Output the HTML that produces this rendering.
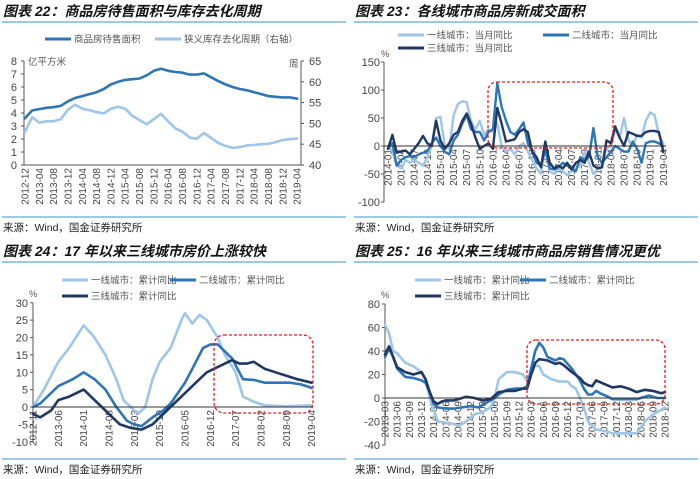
<!DOCTYPE html>
<html><head><meta charset="utf-8"><style>
html,body{margin:0;padding:0;background:#fff;}
svg{display:block;font-family:"Liberation Sans","Noto Sans CJK SC",sans-serif;}
.t{font-size:14px;font-weight:bold;font-style:italic;fill:#111;}
.tk{font-size:11px;fill:#444;}
.rt{font-size:10px;fill:#444;}
.lg{font-size:9.5px;fill:#555;}
.src{font-size:10.5px;fill:#222;}
</style></head><body>
<svg id="s" width="700" height="479" viewBox="0 0 700 479" xmlns="http://www.w3.org/2000/svg">
<g>
<text class="t" x="3" y="16">图表 22：商品房待售面积与库存去化周期</text>
<text class="t" x="355" y="16">图表 23：各线城市商品房新成交面积</text>
<text class="t" x="3" y="256">图表 24：17 年以来三线城市房价上涨较快</text>
<text class="t" x="355" y="256">图表 25：16 年以来三线城市商品房销售情况更优</text>
<line x1="2" y1="22" x2="346" y2="22" stroke="#7db8d8" stroke-width="1.5"/>
<line x1="354" y1="22" x2="698" y2="22" stroke="#7db8d8" stroke-width="1.5"/>
<line x1="2" y1="262" x2="346" y2="262" stroke="#7db8d8" stroke-width="1.5"/>
<line x1="354" y1="262" x2="698" y2="262" stroke="#7db8d8" stroke-width="1.5"/>
<line x1="2" y1="217" x2="346" y2="217" stroke="#7db8d8" stroke-width="1.5"/>
<line x1="354" y1="217" x2="698" y2="217" stroke="#7db8d8" stroke-width="1.5"/>
<line x1="2" y1="459" x2="346" y2="459" stroke="#7db8d8" stroke-width="1.5"/>
<line x1="354" y1="459" x2="698" y2="459" stroke="#7db8d8" stroke-width="1.5"/>
<text class="src" x="3" y="231">来源：Wind，国金证券研究所</text>
<text class="src" x="355" y="231">来源：Wind，国金证券研究所</text>
<text class="src" x="3" y="473">来源：Wind，国金证券研究所</text>
<text class="src" x="355" y="473">来源：Wind，国金证券研究所</text>
</g>
</svg>
<script>
const LIGHT="#9fc5e8", MID="#2e75b6", DARK="#1f3864";
// ---- Chart 22 data (bi-monthly, 2012-12 .. 2019-04)
const c22Months=[0,2,4,6,8,10,12,14,16,18,20,22,24,26,28,30,32,34,36,38,40,42,44,46,48,50,52,54,56,58,60,62,64,66,68,70,72,74,76];
const c22Area=[3.6,4.2,4.3,4.4,4.45,4.55,4.9,5.15,5.3,5.45,5.6,5.85,6.2,6.4,6.55,6.6,6.65,6.9,7.25,7.4,7.25,7.15,7.1,6.95,6.95,7.05,6.75,6.45,6.2,6.0,5.85,5.75,5.6,5.45,5.3,5.25,5.2,5.2,5.1];
const c22Cycle=[48,51.5,50.2,50.5,50.5,51,53.3,54.5,53.5,53.2,52.7,52.4,53.5,54,53.5,51.8,50.8,49.8,51,52.3,50.5,48.8,48,46.6,46.3,47.7,46.5,45.3,44.6,44.1,44.3,44.7,44.8,45,45.1,45.5,46,46.2,46.4];
const c22XTicks=["2012-12","2013-04","2013-08","2013-12","2014-04","2014-08","2014-12","2015-04","2015-08","2015-12","2016-04","2016-08","2016-12","2017-04","2017-08","2017-12","2018-04","2018-08","2018-12","2019-04"];
const c22LeftTicks=[0,1,2,3,4,5,6,7,8];
const c22RightTicks=[40,45,50,55,60,65];
// ---- Chart 23 data (monthly 2014-01 .. 2019-04)
const c23Tier1=[0,-10,-35,-40,-25,-30,-25,-30,-35,-20,0,50,52,0,-5,55,75,80,78,45,30,45,20,30,25,40,0,-10,-5,-15,0,5,-10,-25,-40,-50,0,-45,-50,-40,-45,-52,-45,-40,-35,-10,-30,-50,-40,-30,-5,0,30,15,50,10,0,20,15,45,60,55,20,5];
const c23Tier2=[-5,5,-35,-25,-20,-18,-20,-15,-12,-10,5,15,0,-10,-15,10,20,40,55,30,25,25,10,25,30,112,70,45,25,20,30,42,5,-10,-30,-35,-5,-40,-42,-38,-30,-35,-40,-45,-20,-25,-20,32,-20,-30,-20,-10,0,-5,-10,-10,8,-5,-30,5,8,8,5,0];
const c23Tier3=[-5,20,-12,-10,-8,-15,-5,5,18,5,0,45,10,-5,5,20,25,45,58,40,15,-5,0,5,-5,68,40,8,10,12,25,30,25,-10,-20,-38,8,-30,-40,-35,-40,-30,-42,-30,-25,-30,-10,-35,-40,-38,10,5,35,15,0,25,22,18,18,25,27,27,25,-10];
const c23XTicks=["2014-01","2014-04","2014-07","2014-10","2015-01","2015-04","2015-07","2015-10","2016-01","2016-04","2016-07","2016-10","2017-01","2017-04","2017-07","2017-10","2018-01","2018-04","2018-07","2018-10","2019-01","2019-04"];
const c23YTicks=[-100,-50,0,50,100,150];
// ---- Chart 24 data (month index from 2012-11)
const c24T1M=[0,3,7,10,14,17,20,23,25,27,29,31,33,35,38,41,42,44,46,48,51,53,56,58,61,64,70,77];
const c24T1=[0,5,13,17,23.5,20,15,8,2,0,-2,0,8,13,17,25,27,24,26.5,25,20,15,10,3,1.5,0.5,0.2,0.5];
const c24T2M=[0,2,7,11,14,17,20,23,26,28,30,33,36,38,40,42,44,47,49,51,53,55,56,58,61,64,68,71,74,77];
const c24T2=[0,1,6,8,10,8,5,0,-4,-5,-5.5,-3,-1,1,4,7,11,17,18,18,16,14,12,8,7.8,7,7,7,6.5,5.5];
const c24T3M=[0,2,5,7,10,12,14,16,19,22,24,27,30,33,35,37,39,41,43,46,48,50,53,55,57,59,61,64,67,70,73,77];
const c24T3=[-2,-3,-1,2,3,4,5,3,0,-3,-5,-6,-6.5,-5,-3,-1,1,3,5,8,10,11,12.5,13.5,12.5,12.5,13,11,10,9,8,7];
const c24XTicks=["2012-11","2013-06","2014-01","2014-08","2015-03","2015-10","2016-05","2016-12","2017-07","2018-02","2018-09","2019-04"];
const c24YTicks=[-10,-5,0,5,10,15,20,25,30];
// ---- Chart 25 data (month index from 2013-03)
const c25T1M=[0,1,2,3,5,7,9,10,11,12,13,15,17,18,20,22,24,26,27,28,30,32,34,35,36,37,38,39,41,43,45,46,47,48,49,50,52,54,56,58,60,62,64,66,68,69];
const c25T1=[62,55,40,38,30,27,22,15,0,-10,-20,-21,-22,-24,-20,-14,-12,-8,0,16,22,22,20,15,20,28,27,20,16,14,14,10,8,0,-8,-20,-27,-28,-30,-30,-30,-30,-20,-14,-10,-8];
const c25T2M=[0,1,2,3,5,7,9,10,11,12,13,15,17,19,21,23,25,27,28,30,32,34,35,36,37,38,39,40,42,43,44,46,48,49,50,51,52,53,55,56,60,62,64,65,67,69];
const c25T2=[35,42,35,25,18,17,15,13,5,-5,-8,-9,-9,-8,-7,-8,-4,0,3,7,8,8,10,25,40,47,43,35,32,34,33,25,15,8,3,3,6,4,1,-1,-1,-1,1,2,0,0];
const c25T3M=[0,1,2,3,5,7,9,10,11,12,13,14,15,17,19,20,22,24,26,27,28,30,32,34,35,36,37,38,40,42,43,44,46,48,49,50,51,52,54,56,58,60,62,64,66,68,69];
const c25T3=[37,44,35,26,22,20,22,16,5,-3,-5,-3,-2,-2,0,1,0,-2,-1,2,5,6,6,8,8,20,30,33,32,29,30,28,22,17,13,11,10,15,12,9,10,8,5,7,6,4,5];
const c25XTicks=["2013-03","2013-06","2013-09","2013-12","2014-03","2014-06","2014-09","2014-12","2015-03","2015-06","2015-09","2015-12","2016-03","2016-06","2016-09","2016-12","2017-03","2017-06","2017-09","2017-12","2018-03","2018-06","2018-09","2018-12"];
const c25YTicks=[-40,-20,0,20,40,60,80];

const NS="http://www.w3.org/2000/svg";
const svg=document.getElementById('s');
function mk(tag,attrs,parent){const e=document.createElementNS(NS,tag);for(const k in attrs)e.setAttribute(k,attrs[k]);(parent||svg).appendChild(e);return e;}
function txt(str,attrs,parent){const e=mk('text',attrs,parent);e.textContent=str;return e;}
function poly(xs,ys,xf,yf,color,w,parent){
  let d='';for(let i=0;i<xs.length;i++){d+=(i?'L':'M')+xf(xs[i]).toFixed(1)+','+yf(ys[i]).toFixed(1);}
  return mk('path',{d:d,fill:'none',stroke:color,'stroke-width':w,'stroke-linejoin':'round','stroke-linecap':'round'},parent);
}
function legendItem(x,y,color,label,parent){
  const l=mk('line',{x1:x,y1:y,x2:x+26,y2:y,stroke:color,'stroke-width':3},parent);
  
  
  const t=txt(label,{x:x+29,y:y+3.5,class:'lg'},parent);
  
  
}
function idx(arr){return arr.map((_,i)=>i);}

// ================= Chart 22
(function(){
  const g=mk('g',{});
  
  
  const x=m=>25+m*3.58, yL=v=>165-v*13, yR=v=>165-(v-40)*4.16;
  mk('line',{x1:24,y1:61,x2:24,y2:165,stroke:'#555'},g);
  mk('line',{x1:301,y1:61,x2:301,y2:165,stroke:'#555'},g);
  mk('line',{x1:24,y1:165,x2:301,y2:165,stroke:'#555'},g);
  c22LeftTicks.forEach(v=>{const t=txt(String(v),{x:17,y:yL(v)+4,class:'tk','text-anchor':'end'},g);
    
    mk('line',{x1:21,y1:yL(v),x2:24,y2:yL(v),stroke:'#555'},g);});
  c22RightTicks.forEach(v=>{const t=txt(String(v),{x:309,y:yR(v)+4,class:'tk'},g);
    
    mk('line',{x1:301,y1:yR(v),x2:304,y2:yR(v),stroke:'#555'},g);});
  c22XTicks.forEach((lab,i)=>{const xx=x(i*4);
    const t=txt(lab,{x:0,y:0,class:'rt','text-anchor':'end',transform:`translate(${xx+3.5},168) rotate(-90)`},g);
    });
  txt('亿平方米',{x:28,y:65,class:'lg'},g);
  txt('周',{x:289,y:67,class:'lg'},g);
  const p1=poly(c22Months,c22Cycle,x,yR,LIGHT,2.6,g);
  
  const p2=poly(c22Months,c22Area,x,yL,MID,2.6,g);
  
  legendItem(45,39,MID,'商品房待售面积',g);
  legendItem(155,39,LIGHT,'狭义库存去化周期（右轴）',g);
})();

// ================= Chart 23
(function(){
  const g=mk('g',{});
  
  
  const x=i=>388+i*4.37, y=v=>146-v*0.56;
  mk('line',{x1:384,y1:62,x2:384,y2:202,stroke:'#555'},g);
  c23YTicks.forEach(v=>{const t=txt(String(v),{x:380,y:y(v)+4,class:'tk','text-anchor':'end'},g);
    
    mk('line',{x1:381,y1:y(v),x2:384,y2:y(v),stroke:'#555'},g);});
  c23XTicks.forEach((lab,i)=>{const xx=x(i*3);
    const t=txt(lab,{x:0,y:0,class:'rt','text-anchor':'end',transform:`translate(${xx+3.5},149) rotate(-90)`},g);
    });
  txt('%',{x:381,y:57,class:'lg'},g);
  const a=poly(idx(c23Tier1),c23Tier1,x,y,LIGHT,2.4,g);
  const b=poly(idx(c23Tier2),c23Tier2,x,y,MID,2.4,g);
  const c=poly(idx(c23Tier3),c23Tier3,x,y,DARK,2.4,g);
  mk('line',{x1:384,y1:146,x2:666,y2:146,stroke:'#333'},g);
  const r=mk('rect',{x:488,y:82,width:125,height:66,rx:9,fill:'none',stroke:'#e02020','stroke-width':1.3,'stroke-dasharray':'3,2'},g);
  
  legendItem(398,35,LIGHT,'一线城市：当月同比',g);
  legendItem(543,35,MID,'二线城市：当月同比',g);
  legendItem(398,48,DARK,'三线城市：当月同比',g);
})();

// ================= Chart 24
(function(){
  const g=mk('g',{});
  
  
  const x=m=>33+m*3.62, y=v=>407-v*3.475;
  mk('line',{x1:33,y1:303,x2:33,y2:442,stroke:'#555'},g);
  c24YTicks.forEach(v=>{const t=txt(String(v),{x:28,y:y(v)+4,class:'tk','text-anchor':'end'},g);
    
    mk('line',{x1:30,y1:y(v),x2:33,y2:y(v),stroke:'#555'},g);});
  c24XTicks.forEach((lab,i)=>{const xx=x(i*7);
    const t=txt(lab,{x:0,y:0,class:'rt','text-anchor':'end',transform:`translate(${xx+3.5},410) rotate(-90)`},g);
    });
  txt('%',{x:29,y:297,class:'lg'},g);
  const a=poly(c24T1M,c24T1,x,y,LIGHT,2.6,g);
  const b=poly(c24T2M,c24T2,x,y,MID,2.6,g);
  const c=poly(c24T3M,c24T3,x,y,DARK,2.6,g);
  mk('line',{x1:33,y1:407,x2:313,y2:407,stroke:'#333'},g);
  const r=mk('rect',{x:214,y:335,width:99,height:78,rx:10,fill:'none',stroke:'#e02020','stroke-width':1.3,'stroke-dasharray':'3,2'},g);
  
  legendItem(62,280,LIGHT,'一线城市：累计同比',g);
  legendItem(170,280,MID,'二线城市：累计同比',g);
  legendItem(62,296,DARK,'三线城市：累计同比',g);
})();

// ================= Chart 25
(function(){
  const g=mk('g',{});
  
  
  const x=m=>385+m*4.06, y=v=>398-v*1.175;
  mk('line',{x1:385,y1:304,x2:385,y2:445,stroke:'#555'},g);
  c25YTicks.forEach(v=>{const t=txt(String(v),{x:380,y:y(v)+4,class:'tk','text-anchor':'end'},g);
    
    mk('line',{x1:382,y1:y(v),x2:385,y2:y(v),stroke:'#555'},g);});
  c25XTicks.forEach((lab,i)=>{const xx=x(i*3);
    const t=txt(lab,{x:0,y:0,class:'rt','text-anchor':'end',transform:`translate(${xx+3.5},401) rotate(-90)`},g);
    });
  txt('%',{x:381,y:298,class:'lg'},g);
  const a=poly(c25T1M,c25T1,x,y,LIGHT,2.6,g);
  const b=poly(c25T2M,c25T2,x,y,MID,2.6,g);
  const c=poly(c25T3M,c25T3,x,y,DARK,2.6,g);
  mk('line',{x1:385,y1:398,x2:666,y2:398,stroke:'#333'},g);
  const r=mk('rect',{x:527,y:340,width:138,height:64,rx:9,fill:'none',stroke:'#e02020','stroke-width':1.3,'stroke-dasharray':'3,2'},g);
  
  legendItem(415,280,LIGHT,'一线城市：累计同比',g);
  legendItem(520,280,MID,'二线城市：累计同比',g);
  legendItem(415,296,DARK,'三线城市：累计同比',g);
})();
</script>
</body></html>
